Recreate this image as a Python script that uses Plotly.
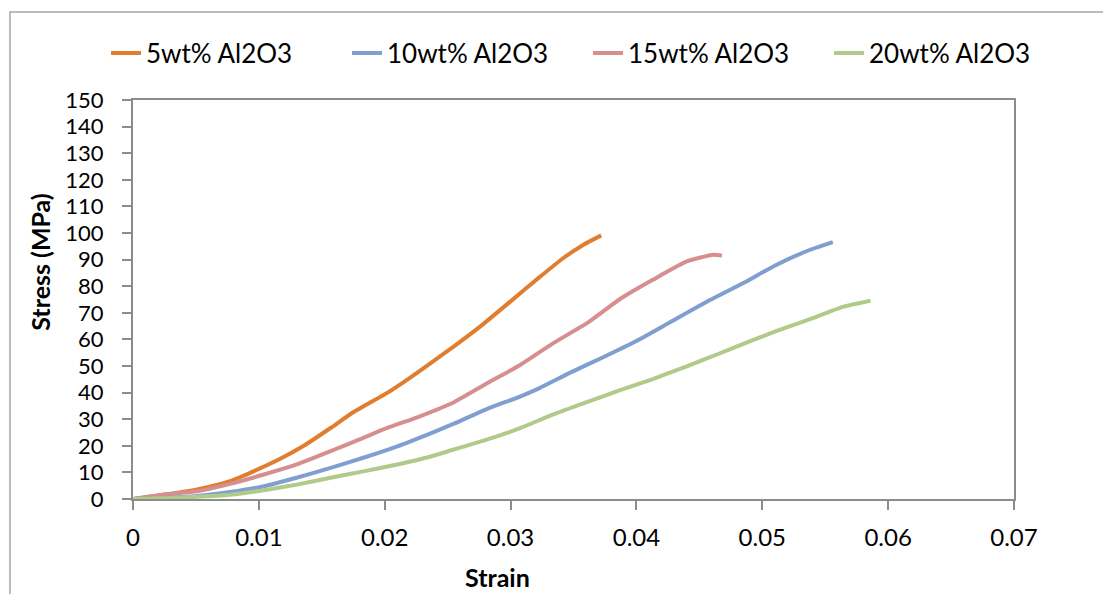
import plotly.graph_objects as go

series_names = ["5wt% Al2O3", "10wt% Al2O3", "15wt% Al2O3", "20wt% Al2O3"]
series_colors = ["#E07D2E", "#7F9FD0", "#D68E8E", "#B0CA8A"]

strain_5 = [0, 0.0025, 0.0051, 0.0077, 0.0100, 0.0117, 0.0135, 0.0157, 0.0175, 0.0202,
            0.0218, 0.0236, 0.0255, 0.0276, 0.0300, 0.0323, 0.0342, 0.0358, 0.0372]
stress_5 = [0, 1.6, 3.6, 6.7, 11.3, 15.1, 19.8, 26.7, 32.6, 39.9,
            44.9, 50.9, 57.4, 64.9, 74.3, 83.4, 90.6, 95.6, 99.1]

strain_10 = [0, 0.0025, 0.0051, 0.0077, 0.0104, 0.0130, 0.0157, 0.0183, 0.0210, 0.0236,
             0.0255, 0.0281, 0.0308, 0.0323, 0.0347, 0.0374, 0.0400, 0.0427, 0.0458,
             0.0485, 0.0511, 0.0538, 0.0556]
stress_10 = [0, 0.4, 1.1, 2.6, 4.8, 8.0, 11.7, 15.5, 19.8, 24.6,
             28.3, 33.8, 38.6, 41.7, 47.4, 53.4, 59.4, 66.5, 74.7,
             81.2, 88.0, 93.7, 96.6]

strain_15 = [0, 0.0024, 0.0051, 0.0077, 0.0104, 0.0130, 0.0157, 0.0183, 0.0202, 0.0228,
             0.0255, 0.0281, 0.0308, 0.0334, 0.0361, 0.0387, 0.0413, 0.0440, 0.0461, 0.0468]
stress_15 = [0, 1.7, 2.9, 5.7, 9.2, 13.0, 18.0, 23.0, 26.7, 31.1,
             36.4, 43.4, 50.5, 58.6, 66.2, 75.2, 82.4, 89.3, 91.8, 91.5]

strain_20 = [0, 0.0025, 0.0051, 0.0077, 0.0104, 0.0130, 0.0157, 0.0183, 0.0210, 0.0236,
             0.0255, 0.0281, 0.0308, 0.0334, 0.0361, 0.0387, 0.0413, 0.0440, 0.0466,
             0.0485, 0.0511, 0.0538, 0.0564, 0.0586]
stress_20 = [0, 0.3, 0.8, 1.6, 3.3, 5.4, 8.0, 10.4, 13.0, 15.9,
             18.6, 22.3, 26.7, 31.8, 36.5, 40.9, 45.1, 49.9, 54.7,
             58.3, 63.1, 67.6, 72.2, 74.5]

x_ticks = [0, 0.01, 0.02, 0.03, 0.04, 0.05, 0.06, 0.07]
x_tick_labels = ["0", "0.01", "0.02", "0.03", "0.04", "0.05", "0.06", "0.07"]
y_ticks = list(range(0, 151, 10))

all_x = [strain_5, strain_10, strain_15, strain_20]
all_y = [stress_5, stress_10, stress_15, stress_20]

FONT = "Lato, 'Open Sans', sans-serif"
AXIS_COLOR = "#8C8C8C"

fig = go.Figure()
for name, color, xs, ys in zip(series_names, series_colors, all_x, all_y):
    fig.add_trace(go.Scatter(x=xs, y=ys, mode="lines", name=name,
                             line=dict(color=color, width=4, shape="spline", smoothing=0.5)))

W, H = 1103, 594
L, R, T, B = 133, 89, 100, 94.5
pw = W - L - R
ph = H - T - B

def px_x(p):
    return (p - L) / pw

def px_y(p):
    return (H - B - p) / ph

fig.update_layout(
    width=W, height=H,
    margin=dict(l=L, r=R, t=T, b=B, pad=0),
    paper_bgcolor="white", plot_bgcolor="white",
    font=dict(family=FONT, size=24, color="#000000"),
    showlegend=True,
    legend=dict(orientation="h", x=px_x(106), y=px_y(53), xanchor="left", yanchor="middle",
                font=dict(family=FONT, size=26, color="#000000"),
                entrywidth=196, entrywidthmode="pixels",
                bgcolor="rgba(0,0,0,0)", borderwidth=0),
    xaxis=dict(range=[0, 0.07], tickvals=x_ticks, ticktext=x_tick_labels,
               showgrid=False, zeroline=False, showline=True, mirror=True,
               linecolor=AXIS_COLOR, linewidth=2,
               ticks="outside", ticklen=9, tickwidth=2, tickcolor=AXIS_COLOR,
               ticklabelstandoff=7,
               tickfont=dict(family=FONT, size=24, color="#000000")),
    yaxis=dict(range=[0, 150], tickvals=y_ticks,
               showgrid=False, zeroline=False, showline=True, mirror=True,
               linecolor=AXIS_COLOR, linewidth=2,
               ticks="outside", ticklen=9, tickwidth=2, tickcolor=AXIS_COLOR,
               ticklabelstandoff=14,
               tickfont=dict(family=FONT, size=22, color="#000000")),
    shapes=[dict(type="rect", xref="paper", yref="paper",
                 x0=px_x(10), x1=px_x(1200), y0=px_y(12), y1=px_y(700),
                 line=dict(color="#A6A6A6", width=1.5), fillcolor="rgba(0,0,0,0)", layer="below")],
    annotations=[
        dict(text="<b>Strain</b>", xref="paper", yref="paper", x=px_x(497), y=px_y(578),
             xanchor="center", yanchor="middle", showarrow=False,
             font=dict(family=FONT, size=25, color="#000000")),
        dict(text="<b>Stress (MPa)</b>", xref="paper", yref="paper", x=px_x(40), y=px_y(262),
             xanchor="center", yanchor="middle", showarrow=False, textangle=-90,
             font=dict(family=FONT, size=25, color="#000000")),
    ],
)

fig.write_html("out.html")
